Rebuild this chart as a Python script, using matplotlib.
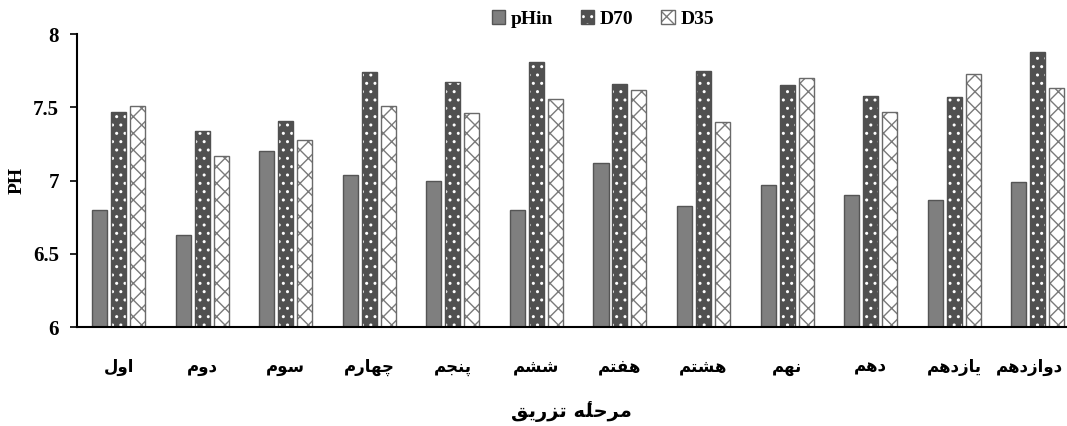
import matplotlib.pyplot as plt
import matplotlib.transforms as mtransforms
import numpy as np

# مراحل تزریق
stages = ['اول', 'دوم', 'سوم', 'چهارم', 'پنجم', 'ششم',
          'هفتم', 'هشتم', 'نهم', 'دهم', 'یازدهم', 'دوازدهم']
phin = [6.80, 6.63, 7.20, 7.04, 7.00, 6.80, 7.12, 6.83, 6.97, 6.90, 6.87, 6.99]
d70 = [7.47, 7.34, 7.41, 7.74, 7.67, 7.81, 7.66, 7.75, 7.65, 7.58, 7.57, 7.88]
d35 = [7.51, 7.17, 7.28, 7.51, 7.46, 7.56, 7.62, 7.40, 7.70, 7.47, 7.73, 7.63]
xlabel_txt = 'مرحلۀ تزریق'

# small reshaper: (isolated, final, initial, medial); None = does not join left
forms = {
    'ا': ('\uFE8D', '\uFE8E', None, None),
    'د': ('\uFEA9', '\uFEAA', None, None),
    'ر': ('\uFEAD', '\uFEAE', None, None),
    'ز': ('\uFEAF', '\uFEB0', None, None),
    'و': ('\uFEED', '\uFEEE', None, None),
    # heh + hamza above (ۀ): drawn as heh form followed by the mark
    'ۀ': ('\u0654\uFEE9', '\u0654\uFEEA', None, None),
    'ت': ('\uFE95', '\uFE96', '\uFE97', '\uFE98'),
    'ج': ('\uFE9D', '\uFE9E', '\uFE9F', '\uFEA0'),
    'ح': ('\uFEA1', '\uFEA2', '\uFEA3', '\uFEA4'),
    'س': ('\uFEB1', '\uFEB2', '\uFEB3', '\uFEB4'),
    'ش': ('\uFEB5', '\uFEB6', '\uFEB7', '\uFEB8'),
    'ف': ('\uFED1', '\uFED2', '\uFED3', '\uFED4'),
    'ق': ('\uFED5', '\uFED6', '\uFED7', '\uFED8'),
    'ل': ('\uFEDD', '\uFEDE', '\uFEDF', '\uFEE0'),
    'م': ('\uFEE1', '\uFEE2', '\uFEE3', '\uFEE4'),
    'ن': ('\uFEE5', '\uFEE6', '\uFEE7', '\uFEE8'),
    'ه': ('\uFEE9', '\uFEEA', '\uFEEB', '\uFEEC'),
    'ی': ('\uFBFC', '\uFBFD', '\uFEF3', '\uFEF4'),
    'پ': ('\uFB56', '\uFB57', '\uFB58', '\uFB59'),
    'چ': ('\uFB7A', '\uFB7B', '\uFB7C', '\uFB7D'),
}


def shape(word):
    out = []
    for i, ch in enumerate(word):
        if ch not in forms:
            out.append(ch)
            continue
        prev = word[i - 1] if i > 0 else None
        nxt = word[i + 1] if i < len(word) - 1 else None
        join_prev = prev in forms and forms[prev][2] is not None
        join_next = nxt in forms and forms[ch][2] is not None
        f = forms[ch]
        if join_prev and join_next:
            out.append(f[3])
        elif join_prev:
            out.append(f[1])
        elif join_next:
            out.append(f[2])
        else:
            out.append(f[0])
    return ''.join(out)


def rtl(text):
    return ' '.join(shape(w)[::-1] for w in text.split(' ')[::-1])


plt.rcParams['font.family'] = ['Liberation Serif', 'DejaVu Sans']
plt.rcParams['font.weight'] = 'bold'
plt.rcParams['hatch.linewidth'] = 1.0

fig = plt.figure(figsize=(10.67, 4.26), dpi=100)
ax = fig.add_axes([0.072, 0.232, 0.928, 0.688])

x = np.arange(len(stages))
w = 0.18
off = 0.227

b1 = ax.bar(x - off, phin, w, color='#7f7f7f', edgecolor='#555555',
            linewidth=1)
b2 = ax.bar(x, d70, w, color='#505050', edgecolor='white', hatch='..',
            linewidth=0)
b2o = ax.bar(x, d70, w, fill=False, edgecolor='#505050', linewidth=1)
b3 = ax.bar(x + off, d35, w, color='white', edgecolor='#7a7a7a', hatch='xx',
            linewidth=0)
b3o = ax.bar(x + off, d35, w, fill=False, edgecolor='#6a6a6a', linewidth=1)

ax.set_ylim(6, 8)
ax.set_xlim(-0.5, 11.35)
ax.set_yticks([6, 6.5, 7, 7.5, 8])
ax.set_yticklabels(['6', '6.5', '7', '7.5', '8'], fontsize=15, fontweight='bold')
ax.set_xticks(x)
ax.set_xticklabels([rtl(s) for s in stages], fontsize=12, fontweight='bold',
                   family=['DejaVu Sans'])
ax.tick_params(axis='x', length=0, pad=22)
ax.tick_params(axis='y', length=5, width=1.2, direction='out', pad=8)

# last label sits at the right edge, nudge it inside
last = ax.get_xticklabels()[-1]
last.set_transform(last.get_transform() +
                   mtransforms.ScaledTranslation(-6 / 72, 0, fig.dpi_scale_trans))

for s in ['top', 'right']:
    ax.spines[s].set_visible(False)
ax.spines['left'].set_linewidth(1.5)
ax.spines['bottom'].set_linewidth(1.5)

ax.set_ylabel('PH', fontsize=14, fontweight='bold', labelpad=5)
ax.set_xlabel(rtl(xlabel_txt), fontsize=14, fontweight='bold',
              family=['DejaVu Sans'], labelpad=18)

fig.legend(handles=[b1[0], (b2[0], b2o[0]), (b3[0], b3o[0])],
           labels=['pHin', 'D70', 'D35'],
           loc='center', bbox_to_anchor=(0.565, 0.955),
           ncol=3, frameon=False, handlelength=0.7,
           handleheight=0.7, handletextpad=0.3, columnspacing=1.4,
           prop={'weight': 'bold', 'size': 14, 'family': 'Liberation Serif'})

fig.savefig('out.png', dpi=100)
